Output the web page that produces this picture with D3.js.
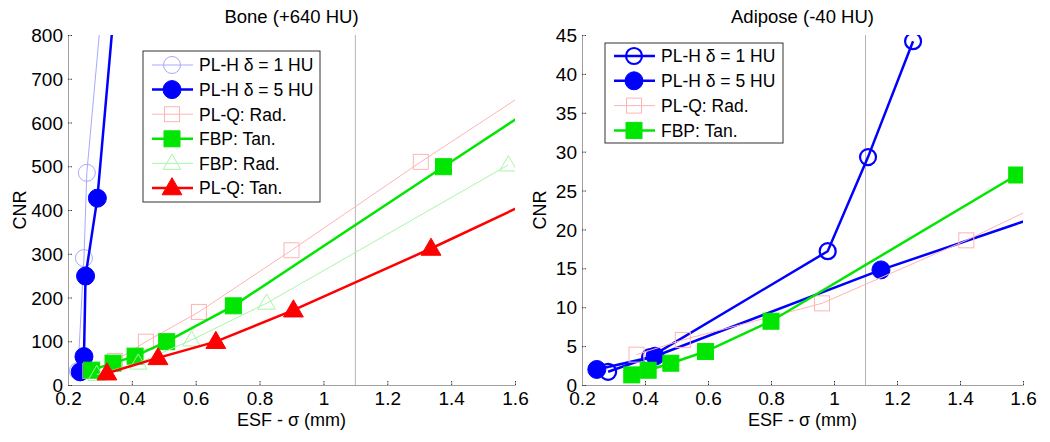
<!DOCTYPE html>
<html><head><meta charset="utf-8">
<script src="https://cdn.jsdelivr.net/npm/d3@7"></script>
<style>body{margin:0;background:#fff}text{font-family:"Liberation Sans",Arial,sans-serif}</style>
</head><body>
<svg id="c" width="1050" height="442"></svg>
<script>
// ---------- Data: Bone (+640 HU) ----------
const boneXTicks = [0.2,0.4,0.6,0.8,1,1.2,1.4,1.6];
const boneYTicks = [0,100,200,300,400,500,600,700,800];
const bonePLH1 = [[0.231,32],[0.25,290],[0.259,485],[0.32,980]];
const bonePLH5 = [[0.238,30],[0.25,65],[0.255,249],[0.292,427],[0.36,990]];
const bonePLQRad = [[0.27,32],[0.347,55],[0.444,99],[0.61,167],[0.9,308],[1.305,510],[1.9,795]];
const boneFBPTan = [[0.274,34],[0.341,50],[0.41,66],[0.509,99],[0.718,181],[1.376,499],[1.9,750]];
const boneFBPRad = [[0.29,24],[0.42,50],[0.587,103],[0.822,187],[1.579,503]];
const bonePLQTan = [[0.322,27],[0.482,62],[0.663,99],[0.906,171],[1.337,312],[2.0,540]];
// ---------- Data: Adipose (-40 HU) ----------
const adiXTicks = [0.2,0.4,0.6,0.8,1,1.2,1.4,1.6];
const adiYTicks = [0,5,10,15,20,25,30,35,40,45];
const adiPLH1 = [[0.283,1.7],[0.416,3.6],[0.98,17.2],[1.108,29.3],[1.251,44.2]];
const adiPLH5 = [[0.247,2.0],[0.432,3.7],[1.149,14.8],[2.0,26.5]];
const adiPLQRad = [[0.373,3.9],[0.52,5.8],[0.962,10.5],[1.42,18.6],[2.0,29.9]];
const adiFBPTan = [[0.358,1.3],[0.41,1.9],[0.482,2.8],[0.592,4.3],[0.8,8.2],[1.58,27.0]];
const refLine = 1.1;

const svg = d3.select("#c");

function panel(o){
  const x = d3.scaleLinear().domain([0.2,1.6]).range([o.x0,o.x1]);
  const y = d3.scaleLinear().domain(o.yDom).range([385,35]);
  const g = svg.append("g");
  const cid = "clip"+o.id;
  svg.append("defs").append("clipPath").attr("id",cid).append("rect")
    .attr("x",o.x0).attr("y",35).attr("width",o.x1-o.x0).attr("height",350);
  g.append("line").attr("x1",x(refLine)).attr("x2",x(refLine)).attr("y1",35).attr("y2",385)
    .attr("stroke","#b4b4b4").attr("stroke-width",1);
  const xa = g.append("g").attr("transform","translate(0,385)")
    .call(d3.axisBottom(x).tickValues(o.xt).tickFormat(d3.format("~g")).tickSizeInner(-4).tickSizeOuter(0).tickPadding(7));
  const ya = g.append("g").attr("transform",`translate(${o.x0},0)`)
    .call(d3.axisLeft(y).tickValues(o.yt).tickFormat(d3.format("~g")).tickSizeInner(-4).tickSizeOuter(0).tickPadding(5));
  [xa,ya].forEach(a=>{
    a.select(".domain").attr("stroke","#a0a0a0");
    a.selectAll(".tick line").attr("stroke","#333").attr("stroke-dasharray","1.5,1");
    a.selectAll("text").attr("font-size",19).attr("fill","#000").attr("font-family","Liberation Sans, Arial");
  });
  ya.selectAll("text").attr("dy","0.35em");
  xa.selectAll("text").attr("dy","0.7em");
  svg.append("text").attr("x",(o.x0+o.x1)/2).attr("y",23).attr("text-anchor","middle")
    .attr("font-size",18.5).text(o.title);
  svg.append("text").attr("x",(o.x0+o.x1)/2).attr("y",426).attr("text-anchor","middle")
    .attr("font-size",18).text("ESF - σ (mm)");
  svg.append("text").attr("transform",`translate(${o.ylx},210) rotate(-90)`).attr("text-anchor","middle")
    .attr("dy","0.35em").attr("font-size",18).text("CNR");
  const plot = g.append("g").attr("clip-path",`url(#${cid})`);
  const line = d3.line().x(d=>x(d[0])).y(d=>y(d[1]));
  o.series.forEach(s=>{
    plot.append("path").datum(s.data).attr("d",line).attr("fill","none")
      .attr("stroke",s.color).attr("stroke-width",s.lw);
    s.data.forEach(d=>drawMarker(plot,x(d[0]),y(d[1]),s));
  });
  const L = o.legend;
  g.append("rect").attr("x",L.x).attr("y",L.y).attr("width",L.w).attr("height",L.h)
    .attr("fill","#fff").attr("stroke","#333").attr("stroke-width",1);
  o.series.filter(s=>s.label).forEach((s,i)=>{
    const cy = L.y+L.off+i*L.dy;
    g.append("line").attr("x1",L.x+9).attr("x2",L.x+50).attr("y1",cy).attr("y2",cy)
      .attr("stroke",s.color).attr("stroke-width",s.lw);
    drawMarker(g,L.x+29,cy,s);
    g.append("text").attr("x",L.x+56).attr("y",cy).attr("dy","0.36em").attr("font-size",17.5).text(s.label);
  });
}

function drawMarker(g,cx,cy,s){
  const fill = s.filled ? s.color : "none";
  const sw = s.filled ? 1 : s.msw;
  if(s.marker==="circle"){
    g.append("circle").attr("cx",cx).attr("cy",cy).attr("r",s.ms).attr("fill",fill).attr("stroke",s.color).attr("stroke-width",sw);
  } else if(s.marker==="square"){
    g.append("rect").attr("x",cx-s.ms).attr("y",cy-s.ms).attr("width",2*s.ms).attr("height",2*s.ms)
      .attr("fill",fill).attr("stroke",s.color).attr("stroke-width",sw);
  } else {
    const r=s.ms;
    g.append("path").attr("d",`M${cx},${cy-r*1.15}L${cx+r*1.1},${cy+r*0.75}L${cx-r*1.1},${cy+r*0.75}Z`)
      .attr("fill",fill).attr("stroke",s.color).attr("stroke-width",sw);
  }
}

panel({id:"a",x0:68,x1:515,ylx:20,yDom:[0,800],xt:boneXTicks,yt:boneYTicks,title:"Bone (+640 HU)",
  legend:{x:143,y:51,w:177,h:151,off:14,dy:24.6},
  series:[
    {label:"PL-H δ = 1 HU",data:bonePLH1,color:"#a8a8ff",lw:1,marker:"circle",ms:8.5,filled:false,msw:1},
    {label:"PL-H δ = 5 HU",data:bonePLH5,color:"#0000ff",lw:2.5,marker:"circle",ms:9,filled:true},
    {label:"PL-Q: Rad.",data:bonePLQRad,color:"#ffb4b4",lw:1,marker:"square",ms:7.5,filled:false,msw:1},
    {label:"FBP: Tan.",data:boneFBPTan,color:"#00e600",lw:2.5,marker:"square",ms:8,filled:true},
    {label:"FBP: Rad.",data:boneFBPRad,color:"#a8f5a8",lw:1,marker:"triangle",ms:8,filled:false,msw:1},
    {label:"PL-Q: Tan.",data:bonePLQTan,color:"#ff0000",lw:2.5,marker:"triangle",ms:9,filled:true}
  ]});

panel({id:"b",x0:582,x1:1023,ylx:540,yDom:[0,45],xt:adiXTicks,yt:adiYTicks,title:"Adipose (-40 HU)",
  legend:{x:605,y:43,w:178,h:100,off:13,dy:24.8},
  series:[
    {label:"PL-H δ = 1 HU",data:adiPLH1,color:"#0000ff",lw:2.5,marker:"circle",ms:8,filled:false,msw:2.2},
    {label:"PL-H δ = 5 HU",data:adiPLH5,color:"#0000ff",lw:2.5,marker:"circle",ms:9,filled:true},
    {label:"PL-Q: Rad.",data:adiPLQRad,color:"#ffb4b4",lw:1,marker:"square",ms:7.5,filled:false,msw:1},
    {label:"FBP: Tan.",data:adiFBPTan,color:"#00e600",lw:2.5,marker:"square",ms:8,filled:true}
  ]});
</script>
</body></html>
